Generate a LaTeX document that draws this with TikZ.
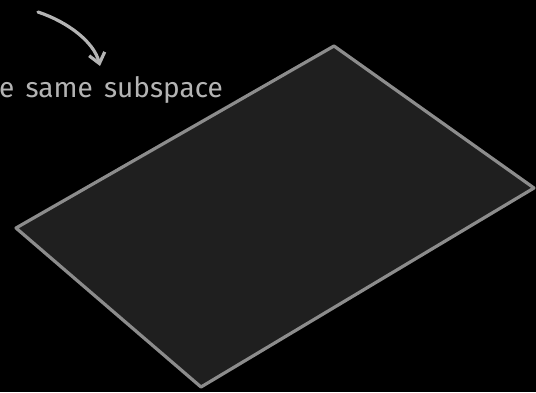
\documentclass[tikz,border=0pt]{standalone}
\usepackage{fontspec}
\setmainfont{Fira Sans}
\usetikzlibrary{arrows.meta}

\definecolor{planefill}{HTML}{1F1F1F}
\definecolor{planeedge}{HTML}{8C8C8C}
\definecolor{chalk}{HTML}{B4B4B4}

\tikzset{
  chalkline/.style={line width=3.2pt, chalk, line cap=round, line join=round},
  plane/.style={fill=planefill, draw=planeedge, line width=3.2pt, line join=round},
  note/.style={font=\fontsize{28}{32}\selectfont, text=chalk, inner sep=0pt, anchor=base west}
}

\begin{document}
\begin{tikzpicture}[x=1pt, y=-1pt]
        % background
        \fill[black] (0,0) rectangle (536,392);
        \useasboundingbox (0,0) rectangle (536,392);
        % the plane
        \draw[plane] (334,46) -- (534,188) -- (201,387) -- (16,228) -- cycle;
        % label
        \node[note] (label) at (-1,97) {e\hspace{0.4em}same\hspace{0.4em}subspace};
        % arrow
        \coordinate (tail) at (38,12);
        \coordinate (tip) at (100,66);
        \draw[chalkline, -{Straight Barb[length=10pt, width=16pt, line width=3.2pt]}]
          (tail) .. controls (68,22) and (94,42) .. (tip);
      \end{tikzpicture}
\end{document}
